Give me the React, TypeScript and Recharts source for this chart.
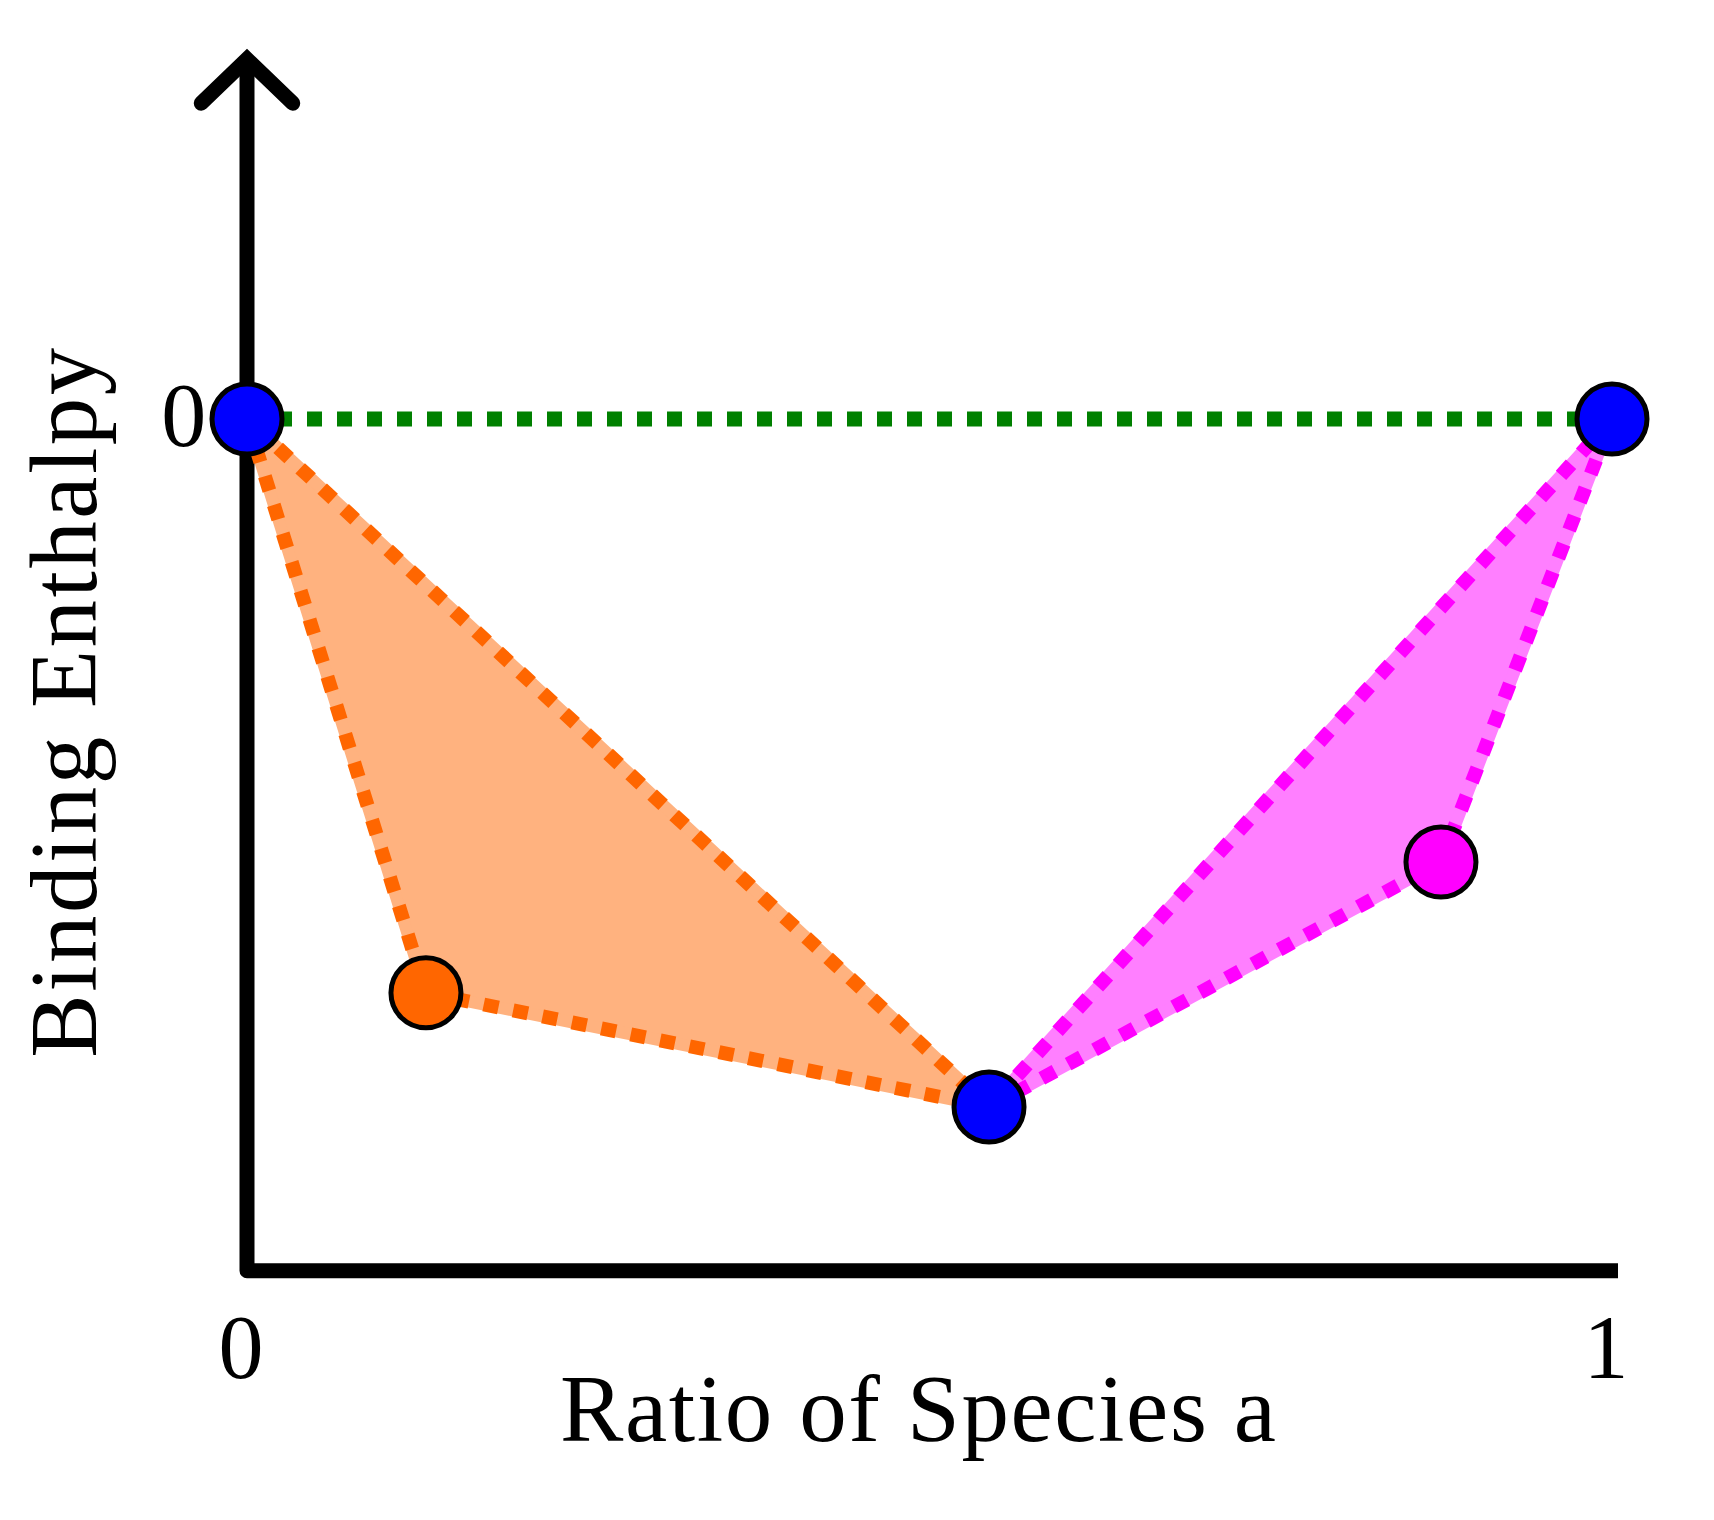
import React from 'react';
import { ComposedChart, XAxis, YAxis, Line, Area, Scatter } from 'recharts';

// ---- data ----
const xTicks = [0, 1];
const yTicks = [0];
const pointX = [0, 0.1311, 0.5436, 0.8747, 1];
const pointY = [0, -0.834, -1, -0.644, 0];
const pointColor = ['#0000ff', '#ff6600', '#0000ff', '#ff00ff', '#0000ff'];
const orangeTriangle = [0, 1, 2];
const magentaTriangle = [2, 3, 4];
const greenSegment = [0, 4];
const xTitle = 'Ratio of Species a';
const yTitle = 'Binding Enthalpy';

// axis frame in data units
const axisBottom = -1.238;
const axisRight = 1.0044;
const arrowTipY = 0.523;
const arrowArmY = 0.459;
const arrowArmX = 0.0335;

const FONT = '"Liberation Serif", "Times New Roman", serif';

const points = pointX.map((x, i) => ({ x, y: pointY[i], color: pointColor[i] }));

function polyData(idx: number[], closed: boolean) {
  const arr = idx.map((i) => ({ x: pointX[i], y: pointY[i] }));
  if (closed) arr.push({ x: pointX[idx[0]], y: pointY[idx[0]] });
  return arr;
}

// range values for a filled triangle, one per vertex
function triangleRanges(idx: number[]) {
  const v = idx.map((i) => ({ x: pointX[i], y: pointY[i] })).sort((a, b) => a.x - b.x);
  const out: Record<number, [number, number]> = {};
  out[v[0].x] = [v[0].y, v[0].y];
  out[v[2].x] = [v[2].y, v[2].y];
  const t = (v[1].x - v[0].x) / (v[2].x - v[0].x);
  const other = v[0].y + t * (v[2].y - v[0].y);
  out[v[1].x] = [Math.min(v[1].y, other), Math.max(v[1].y, other)];
  return out;
}

const orangeR = triangleRanges(orangeTriangle);
const magentaR = triangleRanges(magentaTriangle);
const rows = Array.from(new Set(pointX))
  .sort((a, b) => a - b)
  .map((x) => ({
    x,
    orange: orangeR[x] ?? null,
    magenta: magentaR[x] ?? null,
  }));

const arrowData = [
  { x: -arrowArmX, y: arrowArmY },
  { x: 0, y: arrowTipY },
  { x: arrowArmX, y: arrowArmY },
];
const axisData = [
  { x: 0, y: arrowTipY },
  { x: 0, y: axisBottom },
  { x: axisRight, y: axisBottom },
];

const renderXTick = (props: any) => (
  <text
    key={`xt-${props.payload.value}`}
    x={props.x - 6}
    y={props.y + 57}
    textAnchor="middle"
    fontFamily={FONT}
    fontSize={90}
    fill="#000"
  >
    {props.payload.value}
  </text>
);

const renderYTick = (props: any) => (
  <text
    key={`yt-${props.payload.value}`}
    x={props.x + 13}
    y={props.y + 27}
    textAnchor="middle"
    fontFamily={FONT}
    fontSize={90}
    fill="#000"
  >
    {props.payload.value}
  </text>
);

const renderXTitle = (props: any) => {
  const vb = props.viewBox;
  const cx = vb.x + vb.width / 2 - 11.5;
  const y = vb.y + 127.6;
  return (
    <text
      x={cx}
      y={y}
      textAnchor="middle"
      fontFamily={FONT}
      fontSize={95}
      fill="#000"
      textLength={716}
      lengthAdjust="spacing"
    >
      {xTitle}
    </text>
  );
};

const renderYTitle = (props: any) => {
  const vb = props.viewBox;
  const cy = vb.y + vb.height / 2 + 36;
  const x = 88;
  return (
    <text
      x={x}
      y={cy}
      transform={`rotate(-90, ${x}, ${cy})`}
      textAnchor="middle"
      fontFamily={FONT}
      fontSize={95}
      fill="#000"
      textLength={710}
      lengthAdjust="spacing"
    >
      {yTitle}
    </text>
  );
};

const Marker = (props: any) => (
  <circle
    cx={props.cx}
    cy={props.cy}
    r={35}
    fill={props.payload.color}
    stroke="#000"
    strokeWidth={5}
  />
);

export default function App() {
  return (
    <ComposedChart
      width={1698}
      height={1504}
      data={rows}
      margin={{ top: 11.96, right: 25.75, bottom: 138.6, left: 110.75 }}
    >
      <XAxis
        type="number"
        dataKey="x"
        domain={[-0.05, 1.05]}
        ticks={xTicks}
        axisLine={false}
        tickLine={false}
        height={60}
        interval={0}
        tick={renderXTick}
        label={{ content: renderXTitle }}
      />
      <YAxis
        type="number"
        dataKey="y"
        domain={[-1.3, 0.58]}
        ticks={yTicks}
        axisLine={false}
        tickLine={false}
        width={60}
        interval={0}
        tick={renderYTick}
        label={{ content: renderYTitle }}
      />
      <Line
        data={axisData}
        dataKey="y"
        type="linear"
        stroke="#000"
        strokeWidth={15}
        strokeLinejoin="round"
        strokeLinecap="butt"
        dot={false}
        activeDot={false}
        isAnimationActive={false}
      />
      <Line
        data={arrowData}
        dataKey="y"
        type="linear"
        stroke="#000"
        strokeWidth={15}
        strokeLinejoin="miter"
        strokeLinecap="round"
        dot={false}
        activeDot={false}
        isAnimationActive={false}
      />
      <Area
        dataKey="orange"
        type="linear"
        fill="#ffb27f"
        fillOpacity={1}
        stroke="#ffb27f"
        strokeWidth={12}
        connectNulls={false}
        dot={false}
        activeDot={false}
        isAnimationActive={false}
      />
      <Area
        dataKey="magenta"
        type="linear"
        fill="#ff7fff"
        fillOpacity={1}
        stroke="#ff7fff"
        strokeWidth={12}
        connectNulls={false}
        dot={false}
        activeDot={false}
        isAnimationActive={false}
      />
      <Line
        data={polyData(orangeTriangle, true)}
        dataKey="y"
        type="linear"
        stroke="#ff6600"
        strokeWidth={14}
        strokeDasharray="15 15"
        dot={false}
        activeDot={false}
        isAnimationActive={false}
      />
      <Line
        data={polyData(magentaTriangle, true)}
        dataKey="y"
        type="linear"
        stroke="#ff00ff"
        strokeWidth={14}
        strokeDasharray="15 15"
        dot={false}
        activeDot={false}
        isAnimationActive={false}
      />
      <Line
        data={polyData(greenSegment, false)}
        dataKey="y"
        type="linear"
        stroke="#008000"
        strokeWidth={15}
        strokeDasharray="15 15"
        dot={false}
        activeDot={false}
        isAnimationActive={false}
      />
      <Scatter data={points} shape={<Marker />} isAnimationActive={false} />
    </ComposedChart>
  );
}
